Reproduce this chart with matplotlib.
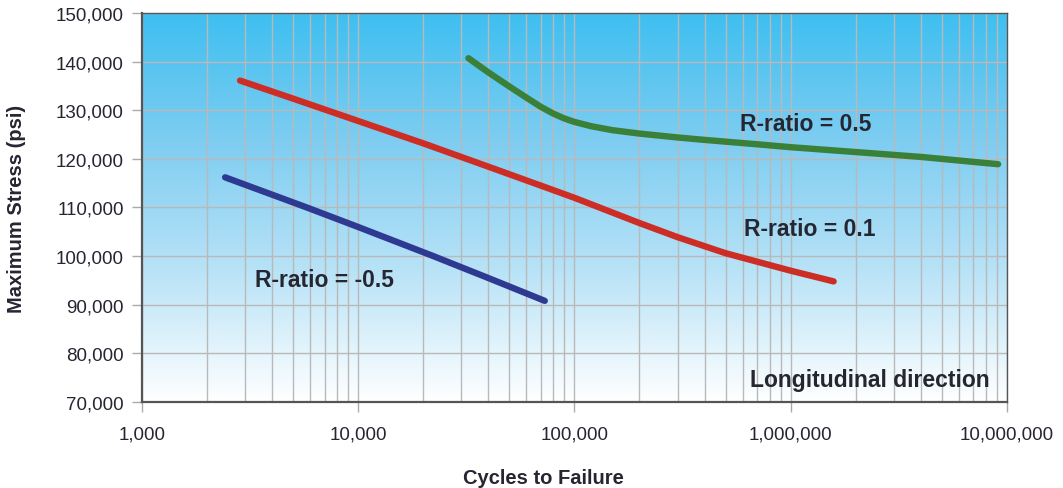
import numpy as np
import matplotlib.pyplot as plt
from matplotlib.colors import LinearSegmentedColormap
from matplotlib.ticker import FuncFormatter, LogLocator, NullFormatter

# data
cycles_r05 = [32400, 40000, 50000, 60000, 70000, 80000, 90000, 100000,
              120000, 150000, 200000, 300000, 400000, 700000, 1000000,
              2000000, 4000000, 9100000]
stress_r05 = [140700, 137800, 134900, 132600, 130700, 129300, 128300, 127600,
              126700, 125900, 125200, 124400, 123900, 123000, 122400,
              121400, 120400, 118900]

cycles_r01 = [2850, 5000, 10000, 20000, 40000, 70000, 100000, 200000,
              300000, 500000, 1000000, 1580000]
stress_r01 = [136100, 132400, 127800, 123200, 118400, 114500, 112000, 106800,
              103900, 100600, 97000, 94800]

cycles_rm05 = [2430, 5800, 10000, 22300, 40000, 73000]
stress_rm05 = [116200, 110000, 106000, 100000, 95500, 90800]

labels = ["R-ratio = 0.5", "R-ratio = 0.1", "R-ratio = -0.5"]
x_ticks = [1e3, 1e4, 1e5, 1e6, 1e7]
y_ticks = list(range(70000, 150001, 10000))

GROEN = "#3a8038"
ROOD = "#cc2e26"
BLAUW = "#2e3a92"
TEKST = "#262633"

plt.rcParams["font.family"] = ["Liberation Sans", "DejaVu Sans"]

fig = plt.figure(figsize=(10.63, 4.89), dpi=100)
ax = fig.add_axes([0.1333, 0.1759, 0.814, 0.7955])

# achtergrondverloop blauw -> wit
cmap = LinearSegmentedColormap.from_list(
    "lucht", ["#ffffff", "#b9e3f7", "#7fcdf1", "#3ebff0"])
grad = np.linspace(0, 1, 256).reshape(-1, 1)
ax.imshow(grad, cmap=cmap, aspect="auto", origin="lower",
          extent=[0, 1, 0, 1], transform=ax.transAxes, zorder=0)

ax.set_xscale("log")
ax.set_xlim(1e3, 1e7)
ax.set_ylim(70000, 150000)

ax.xaxis.set_major_locator(LogLocator(base=10))
ax.xaxis.set_minor_locator(LogLocator(base=10, subs=np.arange(2, 10)))
ax.xaxis.set_minor_formatter(NullFormatter())
ax.set_xticks(x_ticks)
ax.set_yticks(y_ticks)
fmt = FuncFormatter(lambda v, p: f"{int(round(v)):,}")
ax.xaxis.set_major_formatter(fmt)
ax.yaxis.set_major_formatter(fmt)

ax.grid(True, which="major", color="#b9b9b9", linewidth=1.0, zorder=1)
ax.grid(True, which="minor", axis="x", color="#b9b9b9", linewidth=1.0, zorder=1)
ax.set_axisbelow(True)

ax.tick_params(axis="both", which="major", length=7, width=1.0,
               color="#aaaaaa", labelsize=13.5, labelcolor=TEKST, pad=6)
ax.tick_params(axis="x", which="minor", length=0)
ax.tick_params(axis="x", which="major", pad=10)

for kant, sp in ax.spines.items():
    sp.set_color("#555555")
    sp.set_linewidth(1.6 if kant in ("left", "bottom") else 1.0)
    sp.set_zorder(4)

ax.plot(cycles_r05, stress_r05, color=GROEN, linewidth=4.6,
        solid_capstyle="round", solid_joinstyle="round", zorder=3)
ax.plot(cycles_r01, stress_r01, color=ROOD, linewidth=4.6,
        solid_capstyle="round", solid_joinstyle="round", zorder=3)
ax.plot(cycles_rm05, stress_rm05, color=BLAUW, linewidth=4.6,
        solid_capstyle="round", solid_joinstyle="round", zorder=3)

tkw = dict(transform=ax.transAxes, fontsize=16.5, fontweight="bold",
           color=TEKST, va="center", zorder=5)
ax.text(0.691, 0.715, labels[0], ha="left", **tkw)
ax.text(0.696, 0.447, labels[1], ha="left", **tkw)
ax.text(0.131, 0.314, labels[2], ha="left", **tkw)
ax.text(0.980, 0.059, "Longitudinal direction", ha="right", **tkw)

ax.set_xlabel("Cycles to Failure", fontsize=14.5, fontweight="bold",
              color=TEKST)
ax.xaxis.set_label_coords(0.464, -0.17)
ax.set_ylabel("Maximum Stress (psi)", fontsize=14.5, fontweight="bold",
              color=TEKST)
ax.yaxis.set_label_coords(-0.134, 0.5)

fig.savefig("out.png", dpi=100)
